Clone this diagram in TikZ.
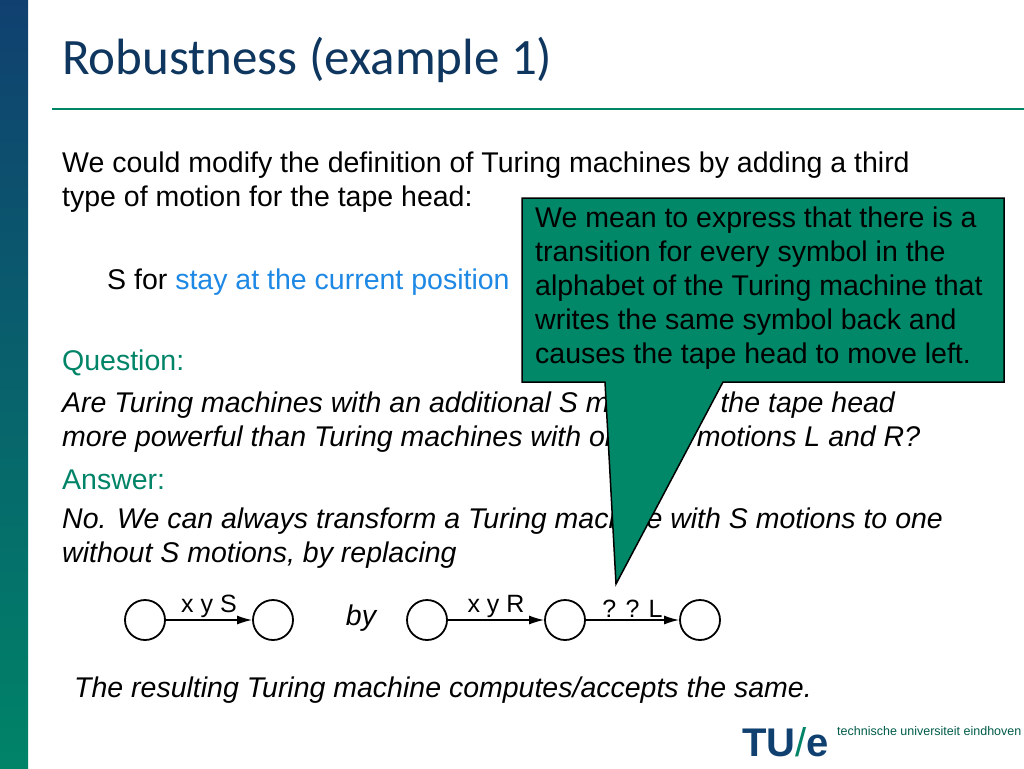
\documentclass[tikz,border=0pt]{standalone}
\usepackage{fontspec}
\setmainfont{Liberation Sans}
\newfontfamily\titlefont{Carlito}
\usetikzlibrary{arrows.meta}
\definecolor{tuegreen}{RGB}{0,132,104}
\definecolor{tueblue}{RGB}{16,64,112}
\definecolor{calfill}{RGB}{0,136,104}
\definecolor{linkblue}{RGB}{30,136,229}
\tikzset{
  body/.style={anchor=west,inner sep=0pt,font=\fontsize{28.5}{32}\selectfont},
  st/.style={circle,draw,line width=1.8pt,minimum size=40pt,inner sep=0pt},
  tr/.style={-{Latex[length=15pt,width=9pt]},line width=1.4pt},
  lab/.style={font=\fontsize{25}{28}\selectfont,inner sep=0pt}
}
\begin{document}
\begin{tikzpicture}[x=1pt,y=-1pt]
\useasboundingbox (0,0) rectangle (1024,768);
\fill[white] (0,0) rectangle (1024,768);
\shade[top color=tueblue,bottom color=tuegreen] (0,0) rectangle (28,768);
\node[anchor=west,inner sep=0pt,text=tueblue!85!black,font=\titlefont\fontsize{51}{56}\selectfont] (title) at (62,60) {Robustness (example 1)};
\draw[tuegreen,line width=2.5pt] (52,109) -- (1024,109);
\node[body] (l1) at (62,165) {We could modify the definition of Turing machines by adding a third};
\node[body] (l2) at (62,199) {type of motion for the tape head:};
\node[body] (l3) at (107,282) {S for \textcolor{linkblue}{stay at the current position}};
\node[body,text=tuegreen] (q) at (62,363) {Question:};
\node[body,font=\fontsize{28.5}{32}\selectfont\itshape] (q1) at (62,405) {Are Turing machines with an additional S motion for the tape head};
\node[body,font=\fontsize{28.5}{32}\selectfont\itshape] (q2) at (62,439) {more powerful than Turing machines with only the motions L and R?};
\node[body,text=tuegreen] (a) at (62,480) {Answer:};
\node[body,font=\fontsize{28.5}{32}\selectfont\itshape] (a1) at (62,521) {No. We can always transform a Turing machine with S motions to one};
\node[body,font=\fontsize{28.5}{32}\selectfont\itshape] (a2) at (62,555) {without S motions, by replacing};
\node[st] (s1) at (145,620) {};
\node[st] (s2) at (273,620) {};
\node[st] (s3) at (427,620) {};
\node[st] (s4) at (565,620) {};
\node[st] (s5) at (700,620) {};
\draw[tr] (s1) -- node[lab,above=2pt]{x y S} (s2);
\draw[tr] (s3) -- node[lab,above=2pt]{x y R} (s4);
\draw[tr] (s4) -- node[lab,above=2pt]{? ? L} (s5);
\node[lab,font=\fontsize{28.5}{32}\selectfont\itshape] (by) at (361,618) {by};
\node[body,font=\fontsize{28.5}{32}\selectfont\itshape] (res) at (74,690) {The resulting Turing machine computes/accepts the same.};
% callout
\coordinate (tip) at (616,584);
\draw[fill=calfill,line width=1.5pt,line join=miter] (522,198) -- (1004,198) -- (1004,382) -- (723,382) -- (tip) -- (605,382) -- (522,382) -- cycle;
\node[anchor=north west,inner sep=0pt,align=left,font=\fontsize{28.5}{34}\selectfont] (cal) at (535,207) {We mean to express that there is a\\transition for every symbol in the\\alphabet of the Turing machine that\\writes the same symbol back and\\causes the tape head to move left.};
% logo
\node[anchor=west,inner sep=0pt,text=tueblue,font=\fontsize{40}{40}\selectfont\bfseries] (tu) at (742,742) {TU\textcolor{tuegreen}{\normalfont/}e};
\node[anchor=west,inner sep=0pt,text=tuegreen!70!black,font=\fontsize{12.5}{14}\selectfont] (uni) at (837,731) {technische universiteit eindhoven};
\end{tikzpicture}
\end{document}
